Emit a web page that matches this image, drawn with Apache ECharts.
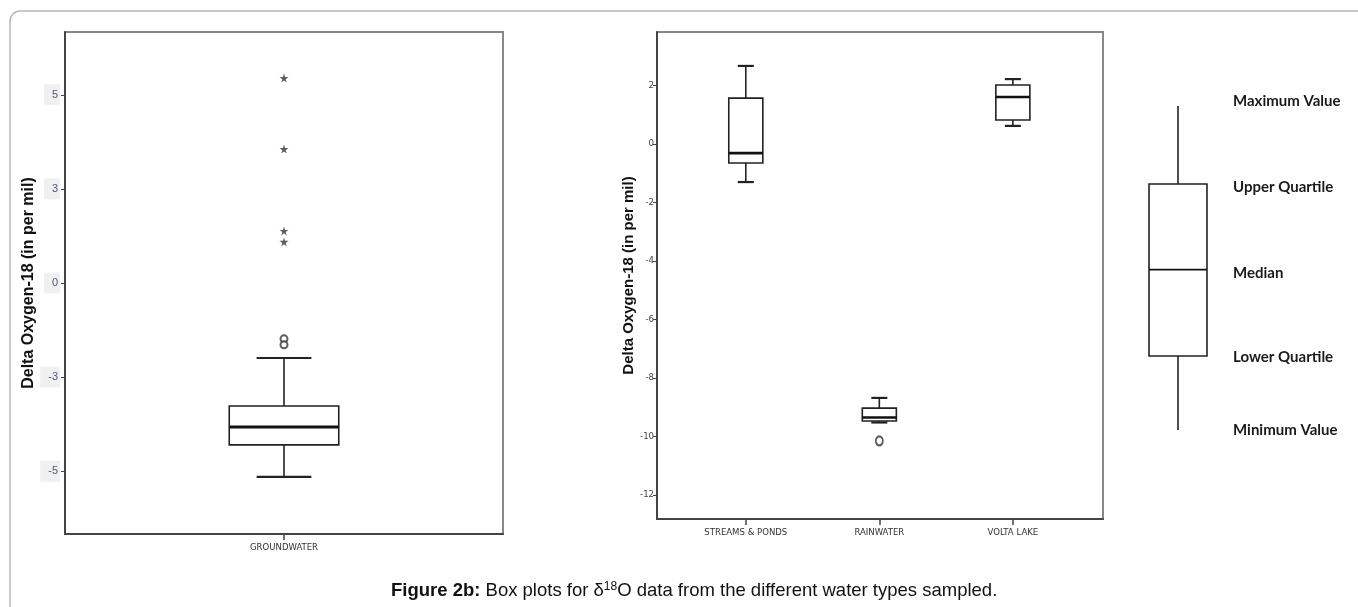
<!DOCTYPE html>
<html>
<head>
<meta charset="utf-8">
<script src="https://cdn.jsdelivr.net/npm/echarts@6/dist/echarts.min.js"></script>
<style>
html, body { margin: 0; padding: 0; background: #fff; }
#chart-container { width: 1358px; height: 607px; }
</style>
</head>
<body>
<div id="chart-container"></div>
<script>
// groundwater panel: [x, min, q1, median, q3, max]
var gwCategories = ['GROUNDWATER'];
var gwBoxes = [[0, -6.18, -5.16, -4.59, -3.92, -2.39]];
var gwExtremes = [[0, 6.53], [0, 4.27], [0, 1.66], [0, 1.31]];
var gwOutliers = [[0, -1.78], [0, -1.97]];
var gwTickValues = [-6, -3, 0, 3, 6];
var gwTickLabels = ['-5', '-3', '0', '3', '5'];

// streams / rain / lake panel
var swCategories = ['STREAMS & PONDS', 'RAINWATER', 'VOLTA LAKE'];
var swBoxes = [
  [0, -1.30, -0.65, -0.31, 1.57, 2.67],
  [1, -9.52, -9.47, -9.35, -9.03, -8.68],
  [2, 0.62, 0.82, 1.61, 2.02, 2.22]
];
var swOutliers = [[1, -10.15]];
var swTickValues = [-12, -10, -8, -6, -4, -2, 0, 2];

// key on the right
var keyLabels = ['Minimum Value', 'Lower Quartile', 'Median', 'Upper Quartile', 'Maximum Value'];
var keyLabelAt = [0, 0.89, 1.91, 2.95, 4];
var keyBox = [[0, 0, 0.90, 1.95, 2.99, 3.94]];

var yName = 'Delta Oxygen-18 (in per mil)';
var starPath = 'path://M50,0 L61,35 L98,35 L68,57 L79,91 L50,70 L21,91 L32,57 L2,35 L39,35 Z';
var narrow = '"DejaVu Sans Condensed", "Liberation Sans", sans-serif';

// draws box + whiskers from the data through api.coord
function boxRenderer(boxFrac, capFrac, medianWidth) {
  return function (params, api) {
    var x = api.value(0);
    var unit = api.size([1, 0])[0];
    var half = unit * boxFrac / 2;
    var cap = unit * capFrac / 2;
    var pMin = api.coord([x, api.value(1)]);
    var pQ1 = api.coord([x, api.value(2)]);
    var pMed = api.coord([x, api.value(3)]);
    var pQ3 = api.coord([x, api.value(4)]);
    var pMax = api.coord([x, api.value(5)]);
    var cx = pMed[0];
    var line = { stroke: '#222', lineWidth: 1.6 };
    var children = [
      { type: 'line', shape: { x1: cx, y1: pMax[1], x2: cx, y2: pQ3[1] }, style: line },
      { type: 'line', shape: { x1: cx, y1: pQ1[1], x2: cx, y2: pMin[1] }, style: line },
      { type: 'rect', shape: { x: cx - half, y: pQ3[1], width: half * 2, height: pQ1[1] - pQ3[1] },
        style: { fill: '#fff', stroke: '#222', lineWidth: 1.6 } },
      { type: 'line', shape: { x1: cx - half, y1: pMed[1], x2: cx + half, y2: pMed[1] },
        style: { stroke: '#111', lineWidth: medianWidth } }
    ];
    if (cap > 0) {
      children.push({ type: 'line', shape: { x1: cx - cap, y1: pMax[1], x2: cx + cap, y2: pMax[1] }, style: { stroke: '#222', lineWidth: 2.2 } });
      children.push({ type: 'line', shape: { x1: cx - cap, y1: pMin[1], x2: cx + cap, y2: pMin[1] }, style: { stroke: '#222', lineWidth: 2.2 } });
    }
    return { type: 'group', children: children };
  };
}

var dom = document.getElementById('chart-container');
var myChart = echarts.init(dom, null, { renderer: 'canvas' });

var frameLine = { onZero: false, lineStyle: { color: '#444', width: 2 } };

var option = {
  backgroundColor: '#fff',
  animation: false,
  title: {
    left: 386,
    top: 576,
    text: '{b|Figure 2b:}{n| Box plots for δ}{s|18}{n|O data from the different water types sampled.}',
    textStyle: {
      fontWeight: 'normal',
      rich: {
        b: { fontFamily: 'Liberation Sans', fontSize: 18.5, fontWeight: 'bold', color: '#111' },
        n: { fontFamily: 'Liberation Sans', fontSize: 18.5, fontWeight: 'normal', color: '#111' },
        s: { fontFamily: 'Liberation Sans', fontSize: 12, fontWeight: 'normal', color: '#111', verticalAlign: 'top' }
      }
    }
  },
  graphic: [{
    type: 'rect',
    z: -10,
    shape: { x: 10, y: 11, width: 1420, height: 720, r: 10 },
    style: { fill: 'none', stroke: '#b8b8b8', lineWidth: 1.5 }
  }],
  grid: [
    { left: 65, top: 32, width: 438, height: 502, show: true, borderColor: '#888', borderWidth: 2, backgroundColor: '#fff' },
    { left: 657, top: 32, width: 446, height: 487, show: true, borderColor: '#888', borderWidth: 2, backgroundColor: '#fff' },
    { left: 1123, top: 101, width: 110, height: 329 }
  ],
  xAxis: [
    {
      gridIndex: 0, type: 'value', min: -0.5, max: 0.5,
      axisLine: frameLine,
      axisTick: { customValues: [0], length: 6, lineStyle: { color: '#444', width: 1.5 } },
      axisLabel: {
        customValues: [0], margin: 9,
        formatter: function (v) { return gwCategories[Math.round(v)]; },
        fontFamily: narrow, fontSize: 9.5, color: '#333'
      },
      splitLine: { show: false }
    },
    {
      gridIndex: 1, type: 'value', min: -0.665, max: 2.675,
      axisLine: frameLine,
      axisTick: { customValues: [0, 1, 2], length: 6, lineStyle: { color: '#444', width: 1.5 } },
      axisLabel: {
        customValues: [0, 1, 2], margin: 9,
        formatter: function (v) { return swCategories[Math.round(v)]; },
        fontFamily: narrow, fontSize: 9.5, color: '#333'
      },
      splitLine: { show: false }
    },
    { gridIndex: 2, type: 'value', min: -0.5, max: 0.5, show: false }
  ],
  yAxis: [
    {
      gridIndex: 0, type: 'value', min: -8, max: 8,
      name: yName, nameLocation: 'middle', nameGap: 24,
      nameTextStyle: { fontFamily: 'Liberation Sans', fontWeight: 'bold', fontSize: 16, color: '#111' },
      axisLine: frameLine,
      axisTick: { customValues: gwTickValues, length: 4, lineStyle: { color: '#444' } },
      axisLabel: {
        customValues: gwTickValues, margin: 5,
        formatter: function (v) { return gwTickLabels[gwTickValues.indexOf(v)]; },
        fontFamily: 'Liberation Sans', fontSize: 11, color: '#4d5a6e',
        backgroundColor: '#f0f0f0', padding: [5, 2, 5, 8]
      },
      splitLine: { show: false }
    },
    {
      gridIndex: 1, type: 'value', min: -12.82, max: 3.83,
      name: yName, nameLocation: 'middle', nameGap: 14,
      nameTextStyle: { fontFamily: 'Liberation Sans', fontWeight: 'bold', fontSize: 15, color: '#111' },
      axisLine: frameLine,
      axisTick: { customValues: swTickValues, length: 4, lineStyle: { color: '#444' } },
      axisLabel: {
        customValues: swTickValues, margin: 3,
        fontFamily: narrow, fontSize: 9.5, color: '#444'
      },
      splitLine: { show: false }
    },
    {
      gridIndex: 2, type: 'value', min: 0, max: 4, position: 'right',
      axisLine: { show: false }, axisTick: { show: false }, splitLine: { show: false },
      axisLabel: {
        customValues: keyLabelAt, margin: 0,
        formatter: function (v) { return keyLabels[keyLabelAt.indexOf(v)]; },
        fontFamily: 'Lato', fontWeight: 'bold', fontSize: 15, color: '#1a1a1a'
      }
    }
  ],
  series: [
    {
      type: 'custom', xAxisIndex: 0, yAxisIndex: 0,
      renderItem: boxRenderer(0.25, 0.125, 3),
      encode: { x: 0, y: [1, 2, 3, 4, 5] },
      data: gwBoxes
    },
    {
      type: 'scatter', xAxisIndex: 0, yAxisIndex: 0,
      symbol: starPath, symbolSize: 9,
      itemStyle: { color: '#333' },
      data: gwExtremes
    },
    {
      type: 'scatter', xAxisIndex: 0, yAxisIndex: 0,
      symbol: 'emptyCircle', symbolSize: 7,
      itemStyle: { color: '#333', borderWidth: 1.3 },
      data: gwOutliers
    },
    {
      type: 'custom', xAxisIndex: 1, yAxisIndex: 1,
      renderItem: boxRenderer(0.255, 0.12, 2.6),
      encode: { x: 0, y: [1, 2, 3, 4, 5] },
      data: swBoxes
    },
    {
      type: 'scatter', xAxisIndex: 1, yAxisIndex: 1,
      symbol: 'emptyCircle', symbolSize: [7, 9],
      itemStyle: { color: '#333', borderWidth: 1.3 },
      data: swOutliers
    },
    {
      type: 'custom', xAxisIndex: 2, yAxisIndex: 2,
      renderItem: boxRenderer(0.527, 0, 1.6),
      encode: { x: 0, y: [1, 2, 3, 4, 5] },
      data: keyBox
    }
  ]
};

myChart.setOption(option);
window.addEventListener('resize', myChart.resize);
</script>
</body>
</html>
